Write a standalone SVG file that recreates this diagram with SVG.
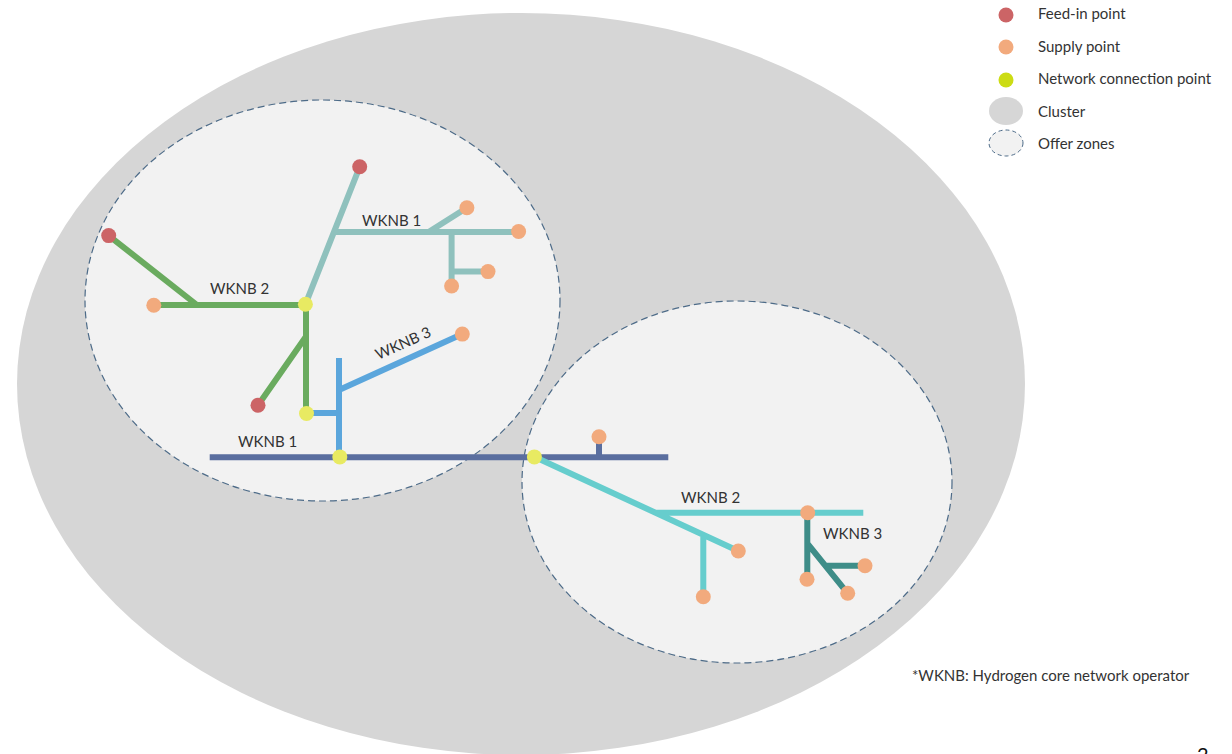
<svg xmlns="http://www.w3.org/2000/svg" width="1232" height="754" viewBox="0 0 1232 754">
<style>
.t{font-family:Lato,"Open Sans","Liberation Sans",sans-serif;font-size:15px;fill:#333}
.zone{fill:#f2f2f2;stroke:#4d6b88;stroke-width:1.2;stroke-dasharray:7 4}
.ln{fill:none;stroke-width:6;stroke-linecap:butt;stroke-linejoin:round}
.feed{fill:#cc6466}.sup{fill:#f2aa7d}.ncp{fill:#e8ea62}
</style>
<rect width="1232" height="754" fill="#ffffff"/>
<g id="cluster"><ellipse cx="521" cy="384" rx="504" ry="371" fill="#d6d6d6"/></g>
<g id="zone1"><ellipse class="zone" cx="322.5" cy="300.5" rx="237.5" ry="200.5"/></g>
<g id="zone2"><ellipse class="zone" cx="737" cy="482" rx="215" ry="181"/></g>
<g id="connectors">
<path class="ln" stroke="#8fc1bd" d="M359.7,166.8 L305.4,304.3 M334,232 H518.6 M428.6,232 L466.9,207.7 M451.6,232 V286 M451.6,271.6 H488"/>
<path class="ln" stroke="#6aab5f" d="M108.7,235.6 L197,305 M153.8,305 H305.4 M306,304 V413.5 M306,336.5 L258,405.3"/>
<path class="ln" stroke="#5ba6dc" d="M306,413 H339 M339,358 V457 M339,390 L462.3,334.1"/>
<path class="ln" stroke="#5a6e9f" d="M209.7,457.2 H668.3 M599,457 V437"/>
<path class="ln" stroke="#66cdcd" d="M534.3,456.7 L738.3,551 M655.5,512.7 H863.3 M703.3,534.8 V596.7"/>
<path class="ln" stroke="#3e8d88" d="M807.3,512.7 V579.3 M807.3,543.3 L847.7,593.3 M825.4,565.7 H865"/>
</g>
<g id="feed-in-points">
<circle class="feed" cx="359.7" cy="166.8" r="7.5"/>
<circle class="feed" cx="108.7" cy="235.6" r="7.5"/>
<circle class="feed" cx="258" cy="405.3" r="7.5"/>
</g>
<g id="supply-points">
<circle class="sup" cx="466.9" cy="207.7" r="7.5"/>
<circle class="sup" cx="518.6" cy="231.5" r="7.5"/>
<circle class="sup" cx="488" cy="271.6" r="7.5"/>
<circle class="sup" cx="451.6" cy="286" r="7.5"/>
<circle class="sup" cx="153.8" cy="305.3" r="7.5"/>
<circle class="sup" cx="462.3" cy="334.1" r="7.5"/>
<circle class="sup" cx="599" cy="436.7" r="7.5"/>
<circle class="sup" cx="807.7" cy="512.7" r="7.5"/>
<circle class="sup" cx="738.3" cy="551" r="7.5"/>
<circle class="sup" cx="703.3" cy="596.7" r="7.5"/>
<circle class="sup" cx="807" cy="579.3" r="7.5"/>
<circle class="sup" cx="865" cy="565.7" r="7.5"/>
<circle class="sup" cx="847.7" cy="593.3" r="7.5"/>
</g>
<g id="network-connection-points">
<circle class="ncp" cx="305.4" cy="304.3" r="7.5"/>
<circle class="ncp" cx="306.5" cy="413.5" r="7.5"/>
<circle class="ncp" cx="339.8" cy="456.9" r="7.5"/>
<circle class="ncp" cx="534.4" cy="456.9" r="7.5"/>
</g>
<g id="labels">
<text class="t" x="362" y="226">WKNB 1</text>
<text class="t" x="210" y="294">WKNB 2</text>
<text class="t" x="403" y="348.5" text-anchor="middle" transform="rotate(-24 403 343)">WKNB 3</text>
<text class="t" x="238" y="447">WKNB 1</text>
<text class="t" x="681" y="502.5">WKNB 2</text>
<text class="t" x="823" y="538.5">WKNB 3</text>
</g>
<g id="legend">
<circle cx="1006" cy="15" r="7.5" fill="#cc6466"/>
<circle cx="1006" cy="47" r="7.5" fill="#f2aa7d"/>
<circle cx="1006" cy="80" r="7.5" fill="#ccdc14"/>
<ellipse cx="1006" cy="111" rx="17" ry="14" fill="#d6d6d6"/>
<ellipse class="zone" cx="1006" cy="143" rx="17" ry="13" style="stroke-dasharray:4 3;stroke-width:1"/>
<text class="t" x="1038" y="19">Feed-in point</text>
<text class="t" x="1038" y="52">Supply point</text>
<text class="t" x="1038" y="84">Network connection point</text>
<text class="t" x="1038" y="117">Cluster</text>
<text class="t" x="1038" y="149">Offer zones</text>
</g>
<g id="footnote">
<text class="t" x="912" y="681">*WKNB: Hydrogen core network operator</text>
<text class="t" x="1197" y="762" style="font-size:20px;fill:#111">2</text>
</g>
</svg>
